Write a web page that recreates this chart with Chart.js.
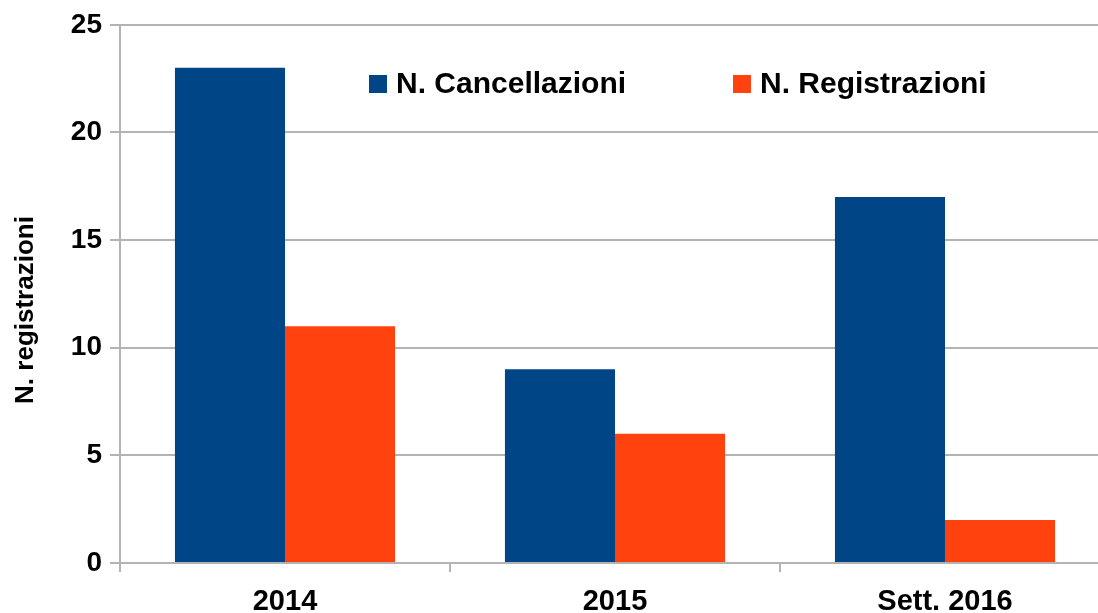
<!DOCTYPE html>
<html>
<head>
<meta charset="utf-8">
<script src="https://cdn.jsdelivr.net/npm/chart.js@4"></script>
<style>
  html, body { margin: 0; padding: 0; background: #fff; overflow: hidden; }
  #wrap { width: 1098px; height: 613px; overflow: hidden; }
</style>
</head>
<body>
<div id="wrap"><canvas id="myChart" width="1110" height="613"></canvas></div>
<script>
// DATI DEL GRAFICO
const categorie = ["2014", "2015", "Sett. 2016"];
const cancellazioni = [23, 9, 17];
const registrazioni = [11, 6, 2];
const yTicks = [0, 5, 10, 15, 20, 25];

const FONT = "'Liberation Sans', Arial, sans-serif";

// LEGENDA E TITOLO ASSE Y DISEGNATI A MANO
const legendaInterna = {
    id: "legendaInterna",
    afterDraw(chart) {
        const ctx = chart.ctx;
        const pos = [369, 733];
        ctx.save();
        ctx.font = "bold 30px " + FONT;
        ctx.textBaseline = "middle";
        chart.data.datasets.forEach((ds, i) => {
            ctx.fillStyle = ds.backgroundColor;
            ctx.fillRect(pos[i], 75, 18, 18);
            ctx.fillStyle = "#000";
            ctx.fillText(ds.label, pos[i] + 27, 85);
        });
        // titolo asse y
        ctx.translate(26, 310);
        ctx.rotate(-Math.PI / 2);
        ctx.font = "bold 26px " + FONT;
        ctx.textAlign = "center";
        ctx.fillText("N. registrazioni", 0, 0);
        ctx.restore();
    }
};

const config = {
    type: "bar",
    data: {
        labels: categorie,
        datasets: [
            { label: "N. Cancellazioni", data: cancellazioni, backgroundColor: "#004586" },
            { label: "N. Registrazioni", data: registrazioni, backgroundColor: "#ff420e" }
        ]
    },
    options: {
        responsive: false,
        animation: false,
        layout: { padding: { top: 24, right: 0, left: 0, bottom: 0 } },
        plugins: {
            legend: { display: false },
            tooltip: { enabled: false }
        },
        datasets: {
            bar: { categoryPercentage: 0.667, barPercentage: 1.0, borderWidth: 0 }
        },
        scales: {
            x: {
                offset: true,
                grid: {
                    offset: true,
                    drawOnChartArea: false,
                    drawTicks: true,
                    tickLength: 9,
                    color: "#b3b3b3",
                    lineWidth: 2
                },
                border: { color: "#b3b3b3", width: 2 },
                ticks: {
                    color: "#000",
                    font: { family: FONT, size: 29, weight: "bold" },
                    padding: 13
                },
                afterFit(scale) { scale.height = 50; }
            },
            y: {
                min: 0,
                max: 25,
                afterBuildTicks(scale) { scale.ticks = yTicks.map(v => ({ value: v })); },
                grid: { color: "#b3b3b3", lineWidth: 2, tickLength: 10 },
                border: { color: "#b3b3b3", width: 2 },
                ticks: {
                    color: "#000",
                    font: { family: FONT, size: 28, weight: "bold" },
                    padding: 8
                },
                afterFit(scale) { scale.width = 120; }
            }
        }
    },
    plugins: [legendaInterna]
};

new Chart(document.getElementById("myChart"), config);
</script>
</body>
</html>
